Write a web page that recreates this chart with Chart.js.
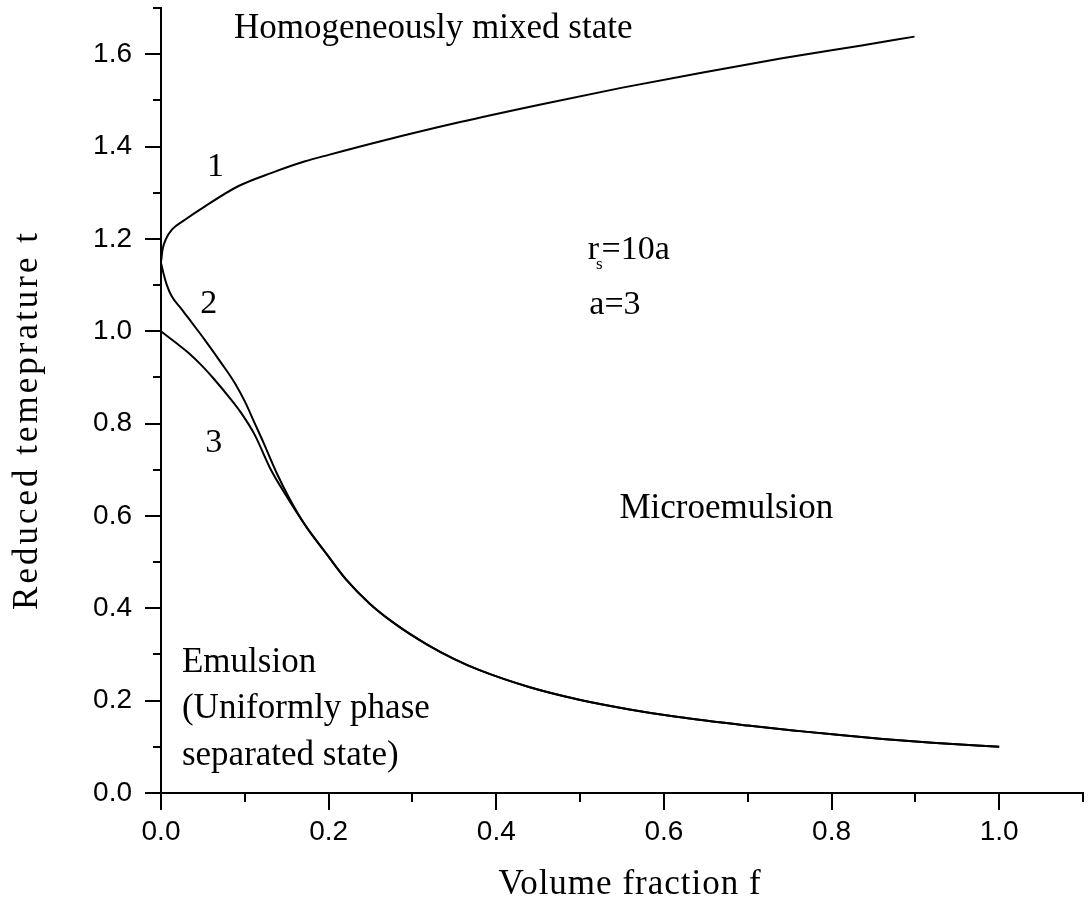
<!DOCTYPE html>
<html>
<head>
<meta charset="utf-8">
<script src="https://cdn.jsdelivr.net/npm/chart.js@4.4.1/dist/chart.umd.min.js"></script>
<style>
  html, body { margin: 0; padding: 0; background: #fff; }
  .phase-chart { position: relative; width: 1089px; height: 912px; }
</style>
</head>
<body>
<div class="phase-chart"><canvas id="phaseChart"></canvas></div>
<script>
// curve 1: upper branch leaving the critical point
const fraction1 = [0, 0.002, 0.006, 0.013, 0.029, 0.052, 0.092, 0.132, 0.172, 0.200, 0.261, 0.357, 0.453, 0.549, 0.645, 0.741, 0.836, 0.899];
const temp1 = [1.150, 1.178, 1.200, 1.220, 1.242, 1.270, 1.314, 1.343, 1.368, 1.382, 1.411, 1.453, 1.491, 1.527, 1.560, 1.591, 1.619, 1.638];

// curve 2: lower branch from the critical point
const fraction2 = [0, 0.003, 0.007, 0.013, 0.025, 0.037, 0.052, 0.072, 0.088, 0.100, 0.112, 0.122, 0.138, 0.154, 0.172];
const temp2 = [1.148, 1.125, 1.100, 1.075, 1.047, 1.018, 0.982, 0.931, 0.888, 0.848, 0.800, 0.760, 0.693, 0.635, 0.580];

// curve 3: starts at t = 1
const fraction3 = [0, 0.017, 0.033, 0.049, 0.064, 0.080, 0.096, 0.112, 0.130, 0.150, 0.172];
const temp3 = [1.000, 0.976, 0.953, 0.925, 0.895, 0.860, 0.822, 0.775, 0.704, 0.642, 0.580];

// common tail where curves 2 and 3 coincide
const tailFraction = [0.197, 0.221, 0.249, 0.281, 0.317, 0.350, 0.380, 0.440, 0.499, 0.559, 0.615, 0.700, 0.762, 0.801, 0.861, 0.920, 1.000];
const tailTemp = [0.519, 0.462, 0.410, 0.364, 0.322, 0.290, 0.266, 0.229, 0.202, 0.181, 0.165, 0.146, 0.134, 0.127, 0.117, 0.109, 0.100];

// axis ticks (every 0.1, labels on every second one)
const xTickValues = [0, 0.1, 0.2, 0.3, 0.4, 0.5, 0.6, 0.7, 0.8, 0.9, 1.0, 1.1];
const xTickLabels = ['0.0', '', '0.2', '', '0.4', '', '0.6', '', '0.8', '', '1.0', ''];
const yTickValues = [0, 0.1, 0.2, 0.3, 0.4, 0.5, 0.6, 0.7, 0.8, 0.9, 1.0, 1.1, 1.2, 1.3, 1.4, 1.5, 1.6, 1.7];
const yTickLabels = ['0.0', '', '0.2', '', '0.4', '', '0.6', '', '0.8', '', '1.0', '', '1.2', '', '1.4', '', '1.6', ''];

const xTitle = 'Volume fraction f';
const yTitle = 'Reduced temeprature t';

// region names and curve numbers, placed in data coordinates
const notes = [
  { text: 'Homogeneously mixed state', x: 0.087, y: 1.634, size: 35 },
  { text: '1', x: 0.065, y: 1.337, size: 34, align: 'center' },
  { text: '2', x: 0.057, y: 1.040, size: 34, align: 'center' },
  { text: '3', x: 0.063, y: 0.739, size: 34, align: 'center' },
  { text: 'Microemulsion', x: 0.547, y: 0.596, size: 35 },
  { text: 'Emulsion', x: 0.025, y: 0.262, size: 35 },
  { text: '(Uniformly phase', x: 0.025, y: 0.163, size: 35 },
  { text: 'separated state)', x: 0.025, y: 0.061, size: 35 },
  { text: 'a=3', x: 0.511, y: 1.038, size: 34 }
];

const serif = '"Liberation Serif", "Times New Roman", serif';
const tickFont = '"Liberation Sans", Arial, sans-serif';

const toPoints = (xs, ys) => xs.map((x, i) => ({ x: x, y: ys[i] }));

const lineStyle = {
  showLine: true,
  borderColor: '#000',
  borderWidth: 2,
  pointRadius: 0,
  cubicInterpolationMode: 'monotone',
  fill: false
};

// major/minor tick marks pointing out of the plot
const tickMarks = {
  id: 'tickMarks',
  afterDraw(chart) {
    const { ctx, chartArea, scales } = chart;
    ctx.save();
    ctx.strokeStyle = '#000';
    ctx.lineWidth = 2;
    ctx.beginPath();
    xTickValues.forEach((v, i) => {
      const px = Math.round(scales.x.getPixelForValue(v));
      const len = xTickLabels[i] ? 17 : 9;
      ctx.moveTo(px, chartArea.bottom);
      ctx.lineTo(px, chartArea.bottom + len);
    });
    yTickValues.forEach((v, i) => {
      const py = Math.round(scales.y.getPixelForValue(v));
      const len = yTickLabels[i] ? 16 : 8;
      ctx.moveTo(chartArea.left, py);
      ctx.lineTo(chartArea.left - len, py);
    });
    ctx.stroke();
    ctx.restore();
  }
};

// axis titles (spaced out a little) and the text notes inside the plot
const plotNotes = {
  id: 'plotNotes',
  afterDraw(chart) {
    const { ctx, scales, chartArea } = chart;
    ctx.save();
    ctx.fillStyle = '#000';
    ctx.textBaseline = 'alphabetic';
    notes.forEach(n => {
      ctx.font = n.size + 'px ' + serif;
      ctx.textAlign = n.align || 'left';
      ctx.fillText(n.text, scales.x.getPixelForValue(n.x), scales.y.getPixelForValue(n.y));
    });

    // r with subscript s, then =10a
    const rx = scales.x.getPixelForValue(0.509);
    const ry = scales.y.getPixelForValue(1.157);
    ctx.textAlign = 'left';
    ctx.font = '34px ' + serif;
    ctx.fillText('r', rx, ry);
    const rw = ctx.measureText('r').width;
    ctx.font = '17px ' + serif;
    ctx.fillText('s', rx + rw - 3, ry + 10);
    const sw = ctx.measureText('s').width;
    ctx.font = '34px ' + serif;
    ctx.fillText('=10a', rx + rw + sw - 4, ry);

    // axis titles
    ctx.textAlign = 'center';
    ctx.textBaseline = 'middle';
    ctx.font = '35px ' + serif;
    ctx.letterSpacing = '1px';
    ctx.fillText(xTitle, (chartArea.left + chartArea.right) / 2 + 8, 885);

    ctx.letterSpacing = '3px';
    ctx.translate(28, 420);
    ctx.rotate(-Math.PI / 2);
    ctx.fillText(yTitle, 0, 0);
    ctx.restore();
  }
};

const ctx = document.getElementById('phaseChart').getContext('2d');
new Chart(ctx, {
  type: 'scatter',
  data: {
    datasets: [
      { label: '1', data: toPoints(fraction1, temp1), ...lineStyle },
      { label: '2', data: toPoints(fraction2.concat(tailFraction), temp2.concat(tailTemp)), ...lineStyle },
      { label: '3', data: toPoints(fraction3.concat(tailFraction), temp3.concat(tailTemp)), ...lineStyle }
    ]
  },
  options: {
    responsive: true,
    maintainAspectRatio: false,
    animation: false,
    layout: {
      padding: { top: 8, right: 6, left: 0, bottom: 0 }
    },
    plugins: {
      legend: { display: false },
      tooltip: { enabled: false }
    },
    scales: {
      x: {
        type: 'linear',
        min: 0,
        max: 1.1,
        afterBuildTicks: scale => {
          scale.ticks = xTickValues.map(v => ({ value: v }));
        },
        afterFit: scale => {
          scale.height = 119;
          scale.paddingLeft = 0;
          scale.paddingRight = 0;
        },
        ticks: {
          autoSkip: false,
          maxRotation: 0,
          padding: 22,
          color: '#000',
          font: { family: tickFont, size: 28, lineHeight: 1.2 },
          callback: (value, index) => xTickLabels[index]
        },
        grid: { display: false, drawTicks: false },
        border: { display: true, color: '#000', width: 2 }
      },
      y: {
        type: 'linear',
        min: 0,
        max: 1.7,
        afterBuildTicks: scale => {
          scale.ticks = yTickValues.map(v => ({ value: v }));
        },
        afterFit: scale => {
          scale.width = 161;
          scale.paddingTop = 0;
          scale.paddingBottom = 0;
        },
        ticks: {
          autoSkip: false,
          padding: 29,
          color: '#000',
          font: { family: tickFont, size: 28, lineHeight: 1.2 },
          callback: (value, index) => yTickLabels[index]
        },
        grid: { display: false, drawTicks: false },
        border: { display: true, color: '#000', width: 2 }
      }
    }
  },
  plugins: [tickMarks, plotNotes]
});
</script>
</body>
</html>
